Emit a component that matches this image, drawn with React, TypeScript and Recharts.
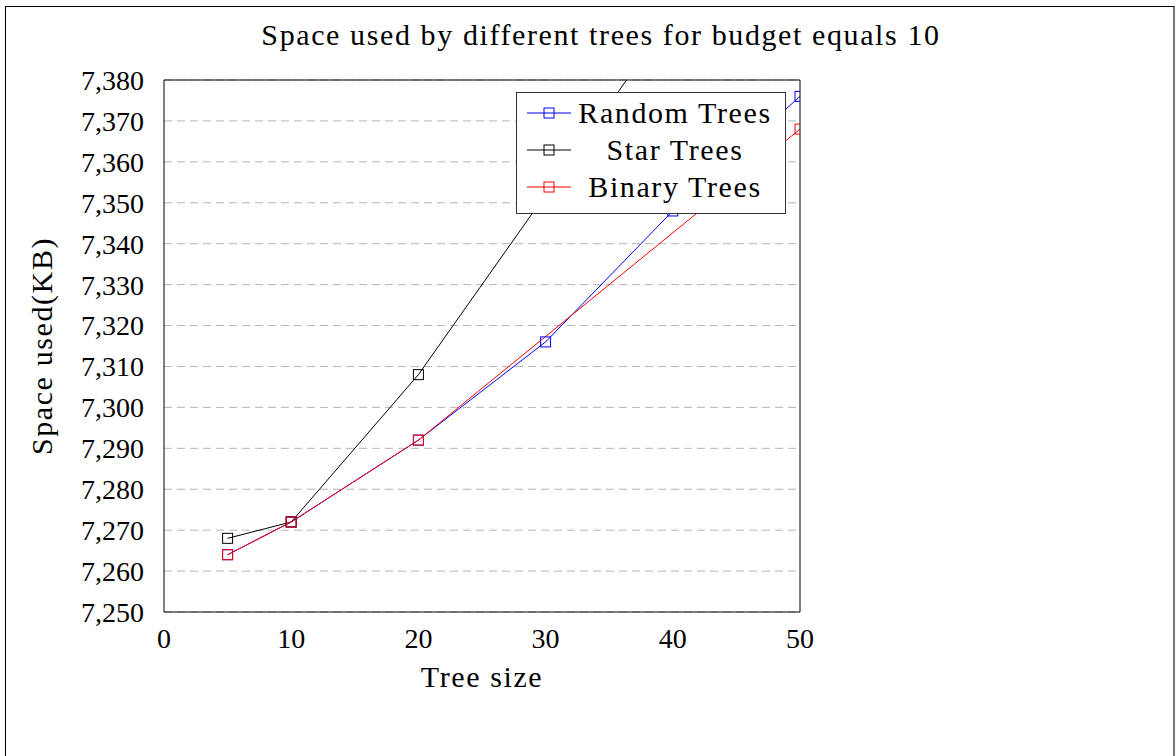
import React from 'react';
import { LineChart, Line, XAxis, YAxis, CartesianGrid, Legend } from 'recharts';

const xValues = [5, 10, 20, 30, 40, 50];
const randomTrees = [7264, 7272, 7292, 7316, 7348, 7376];
const starTrees = [7268, 7272, 7308, 7352, 7396, 7440];
const binaryX = [5, 10, 20, 50];
const binaryTrees = [7264, 7272, 7292, 7368];
const xTicks = [0, 10, 20, 30, 40, 50];
const yTicks = [7250, 7260, 7270, 7280, 7290, 7300, 7310, 7320, 7330, 7340, 7350, 7360, 7370, 7380];
const seriesNames = ['Random Trees', 'Star Trees', 'Binary Trees'];
const seriesColors = ['#0000ff', '#000000', '#ff0000'];
const title = 'Space used by different trees for budget equals 10';
const xLabel = 'Tree size';
const yLabel = 'Space used(KB)';

const randomData = xValues.map((x, i) => ({ x, y: randomTrees[i] }));
const starData = xValues.map((x, i) => ({ x, y: starTrees[i] }));
const binaryData = binaryX.map((x, i) => ({ x, y: binaryTrees[i] }));

const FONT = '"Liberation Serif", serif';
const TICK_FS = 28;
const TEXT_FS = 30;
const LS = 1.6;

const SquareDot = (color: string) => (props: any) => {
  const { cx, cy, key } = props;
  if (cx == null || cy == null) return <g key={key} />;
  return <rect key={key} x={cx - 5} y={cy - 5} width={10} height={10} fill="none" stroke={color} strokeWidth={1} />;
};

const Empty = () => <g />;

const LegendBox = () => (
  <div
    style={{
      width: 268,
      height: 119,
      border: '1px solid #333',
      background: '#fff',
      fontFamily: FONT,
      fontSize: TEXT_FS,
      letterSpacing: LS,
      boxSizing: 'content-box',
      paddingTop: 1,
    }}
  >
    {seriesNames.map((n, i) => (
      <div key={n} style={{ display: 'flex', alignItems: 'center', height: 37, lineHeight: '37px' }}>
        <svg width={60} height={20} style={{ flex: 'none' }}>
          <line x1={10} y1={10} x2={54} y2={10} stroke={seriesColors[i]} strokeWidth={1} />
          <rect x={27} y={5} width={10} height={10} fill="none" stroke={seriesColors[i]} strokeWidth={1} />
        </svg>
        <span style={{ flex: 1, textAlign: 'center', paddingRight: 12, color: '#000', whiteSpace: 'nowrap' }}>{n}</span>
      </div>
    ))}
  </div>
);

export default function App() {
  return (
    <div style={{ position: 'absolute', left: 0, top: 0, width: 1176, height: 756, background: '#fff', overflow: 'hidden' }}>
      <div
        style={{
          position: 'absolute',
          left: 5,
          top: 6,
          width: 1167,
          height: 760,
          borderLeft: '1px solid #000',
          borderTop: '1px solid #000',
          borderRight: '2px solid #777',
        }}
      />
      <div
        style={{
          position: 'absolute',
          left: 0,
          top: 18,
          width: 1202,
          textAlign: 'center',
          fontFamily: FONT,
          fontSize: TEXT_FS,
          letterSpacing: LS,
          color: '#000',
        }}
      >
        {title}
      </div>
      <LineChart
        width={1176}
        height={756}
        margin={{ top: 80, right: 376, bottom: 84, left: 0 }}
        style={{ position: 'absolute', left: 0, top: 0 }}
      >
        <CartesianGrid horizontal vertical={false} stroke="#b5b5b5" strokeDasharray="8 5" />
        <XAxis
          dataKey="x"
          type="number"
          domain={[0, 50]}
          ticks={xTicks}
          interval={0}
          allowDataOverflow
          height={60}
          tickLine={false}
          axisLine={{ stroke: '#000', strokeWidth: 1 }}
          tick={{ fontFamily: FONT, fontSize: TICK_FS, fill: '#000' }}
          tickMargin={10}
          label={(p: any) => {
            const vb = p.viewBox;
            return (
              <text x={vb.x + vb.width / 2} y={vb.y + 75} textAnchor="middle" fontFamily={FONT} fontSize={TEXT_FS} letterSpacing={LS} fill="#000">
                {xLabel}
              </text>
            );
          }}
        />
        <XAxis xAxisId="xb" type="number" domain={[0, 50]} ticks={xTicks} interval={0} orientation="bottom" mirror tick={Empty} tickSize={6} axisLine={false} tickLine={{ stroke: '#555' }} />
        <XAxis xAxisId="xt" type="number" domain={[0, 50]} ticks={xTicks} interval={0} orientation="top" mirror tick={Empty} tickSize={6} axisLine={{ stroke: '#000' }} tickLine={{ stroke: '#555' }} />
        <YAxis
          type="number"
          domain={[7250, 7380]}
          ticks={yTicks}
          interval={0}
          allowDataOverflow
          width={164}
          tickLine={false}
          axisLine={{ stroke: '#000', strokeWidth: 1 }}
          tick={{ fontFamily: FONT, fontSize: TICK_FS, fill: '#000' }}
          tickMargin={14}
          tickFormatter={(v: number) => v.toLocaleString('en-US')}
          label={(p: any) => {
            const vb = p.viewBox;
            const cx = vb.x + 52;
            const cy = vb.y + vb.height / 2;
            return (
              <text x={cx} y={cy} transform={`rotate(-90 ${cx} ${cy})`} textAnchor="middle" fontFamily={FONT} fontSize={TEXT_FS} letterSpacing={LS} fill="#000">
                {yLabel}
              </text>
            );
          }}
        />
        <YAxis yAxisId="yl" type="number" domain={[7250, 7380]} ticks={yTicks} interval={0} orientation="left" mirror tick={Empty} tickSize={6} axisLine={false} tickLine={{ stroke: '#555' }} />
        <YAxis yAxisId="yr" type="number" domain={[7250, 7380]} ticks={yTicks} interval={0} orientation="right" mirror tick={Empty} tickSize={6} axisLine={{ stroke: '#000' }} tickLine={{ stroke: '#555' }} />
        <Line data={randomData} dataKey="y" name={seriesNames[0]} stroke={seriesColors[0]} strokeWidth={1} dot={SquareDot(seriesColors[0])} isAnimationActive={false} />
        <Line data={starData} dataKey="y" name={seriesNames[1]} stroke={seriesColors[1]} strokeWidth={1} dot={SquareDot(seriesColors[1])} isAnimationActive={false} />
        <Line data={binaryData} dataKey="y" name={seriesNames[2]} stroke={seriesColors[2]} strokeWidth={1} dot={SquareDot(seriesColors[2])} isAnimationActive={false} />
        <Legend
          layout="vertical"
          align="center"
          verticalAlign="middle"
          content={() => <LegendBox />}
          wrapperStyle={{ left: 516, top: 92, width: 270, height: 122 }}
        />
      </LineChart>
    </div>
  );
}
